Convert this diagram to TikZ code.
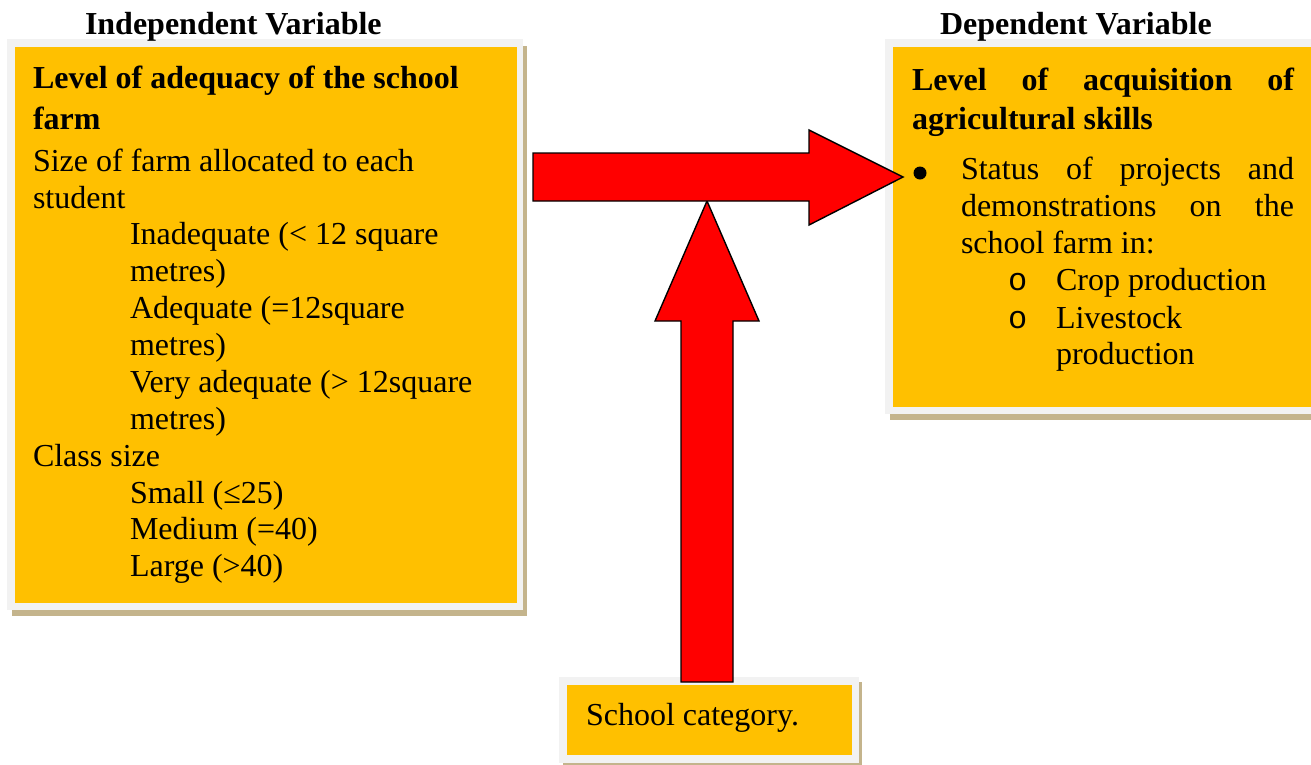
\documentclass[tikz,border=0pt]{standalone}
\usepackage{fontspec}
\setmainfont{Liberation Serif}
\newfontfamily\monofam{Liberation Mono}
\definecolor{boxorange}{HTML}{FFC000}
\definecolor{framegrey}{HTML}{F2F2F2}
\definecolor{shadowtan}{HTML}{C4B48C}
\definecolor{arrowred}{HTML}{FF0000}
\tikzset{
  txt/.style={anchor=base west, inner sep=0pt, outer sep=0pt, font=\fontsize{32pt}{36.7pt}\selectfont},
  btxt/.style={txt, font=\fontsize{32pt}{36.7pt}\selectfont\bfseries},
  rectnode/.style={anchor=north west, inner sep=0pt, outer sep=0pt, draw=none},
  shadowbox/.style={rectnode, fill=shadowtan},
  framebox/.style={rectnode, fill=framegrey},
  fillbox/.style={rectnode, fill=boxorange},
  bulletdot/.style={circle, fill=black, inner sep=0pt, outer sep=0pt, minimum size=13pt},
  blockarrow/.style={draw=black, line width=1.4pt, fill=arrowred, line join=miter}
}
\begin{document}
\begin{tikzpicture}[x=1pt, y=-1pt]
\useasboundingbox (0,0) rectangle (1311,764);
% ---------- left box
\node[shadowbox, minimum width=515pt, minimum height=570pt] (lshadow) at (12,46) {};
\node[framebox, minimum width=516pt, minimum height=571pt] (lframe) at (7,39) {};
\node[fillbox, minimum width=502pt, minimum height=556pt] (lbox) at (15,47) {};
% ---------- right box
\node[shadowbox, minimum width=430pt, minimum height=374pt] (rshadow) at (890,46) {};
\node[framebox, minimum width=430pt, minimum height=375pt] (rframe) at (885,39) {};
\node[fillbox, minimum width=420pt, minimum height=360pt] (rbox) at (893,47) {};
% ---------- bottom box
\node[shadowbox, minimum width=299pt, minimum height=90pt] (bshadow) at (563,682) {};
\node[framebox, minimum width=300pt, minimum height=86pt] (bframe) at (559,677) {};
\node[fillbox, minimum width=285pt, minimum height=70pt] (bbox) at (567,685) {};
% ---------- titles
\node[btxt] (tindep) at (85,34) {Independent Variable};
\node[btxt] (tdep) at (940,34) {Dependent Variable};
% ---------- left text
\node[btxt] (l1) at (33,88) {Level of adequacy of the school};
\node[btxt] (l2) at (33,129) {farm};
\node[txt] (l3) at (33,171) {Size of farm allocated to each};
\node[txt] (l4) at (33,208) {student};
\node[txt] (l5) at (130,244) {Inadequate (< 12 square};
\node[txt] (l6) at (130,281) {metres)};
\node[txt] (l7) at (130,318) {Adequate (=12square};
\node[txt] (l8) at (130,355) {metres)};
\node[txt] (l9) at (130,392) {Very adequate (> 12square};
\node[txt] (l10) at (130,429) {metres)};
\node[txt] (l11) at (33,466) {Class size};
\node[txt] (l12) at (130,503) {Small (≤25)};
\node[txt] (l13) at (130,539) {Medium (=40)};
\node[txt] (l14) at (130,576) {Large (>40)};
% ---------- right text
\node[btxt] (r1) at (912,90) {\makebox[382pt][s]{Level of acquisition of}};
\node[btxt] (r2) at (912,129) {agricultural skills};
\node[bulletdot] (rb1) at (920,173) {};
\node[txt] (r3) at (961,179) {\makebox[333pt][s]{Status of projects and}};
\node[txt] (r4) at (961,216) {\makebox[333pt][s]{demonstrations on the}};
\node[txt] (r5) at (961,253) {school farm in:};
\node[txt, font=\fontsize{32pt}{36.7pt}\monofam] (rb2) at (1008,290) {o};
\node[txt] (r6) at (1056,290) {Crop production};
\node[txt, font=\fontsize{32pt}{36.7pt}\monofam] (rb3) at (1008,328) {o};
\node[txt] (r7) at (1056,328) {Livestock};
\node[txt] (r8) at (1056,364) {production};
% ---------- bottom text
\node[txt] (b1) at (586,725) {School category.};
% ---------- arrows
\coordinate (htip) at (903,177);
\coordinate (vtip) at (707,201);
\draw[blockarrow] (vtip) -- (759,321) -- (733,321) -- (733,682) -- (681,682) -- (681,321) -- (655,321) -- cycle;
\draw[blockarrow] (533,153) -- (809,153) -- (809,130) -- (htip) -- (809,225) -- (809,201) -- (533,201) -- cycle;
\end{tikzpicture}
\end{document}
